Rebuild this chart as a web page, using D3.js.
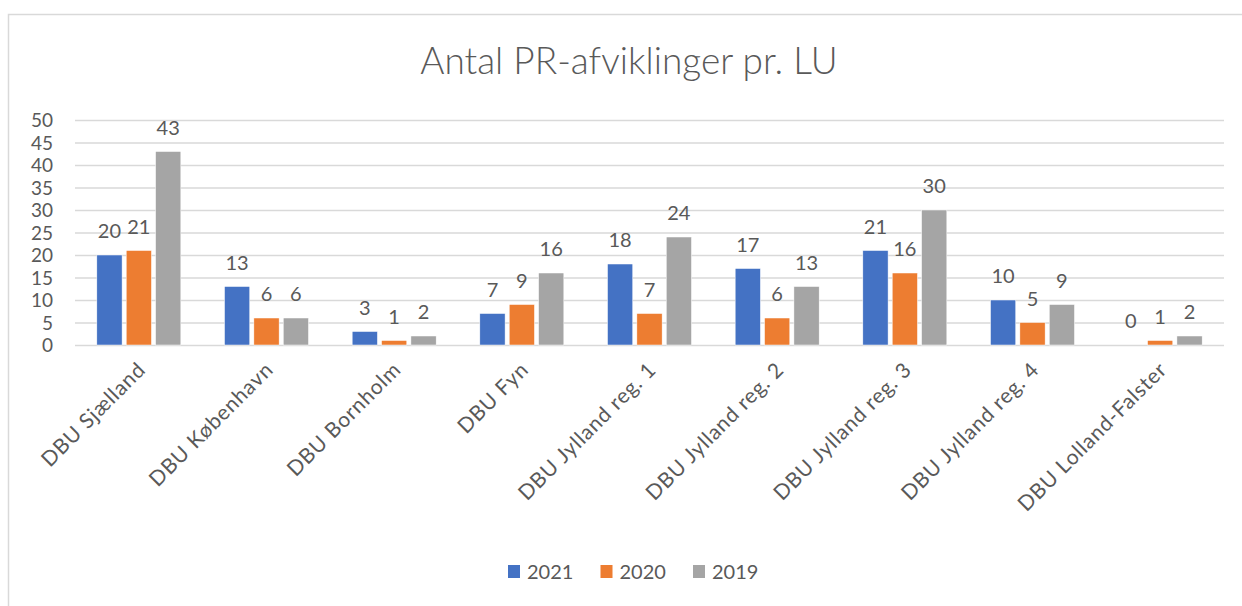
<!DOCTYPE html>
<html>
<head>
<meta charset="utf-8">
<script src="https://cdn.jsdelivr.net/npm/d3@7"></script>
<style>
  body { margin: 0; background: #fff; }
  text { font-family: Lato, "Open Sans", sans-serif; fill: #595959; }
</style>
</head>
<body>
<div id="chart"></div>
<script>
const categories = ['DBU Sjælland', 'DBU København', 'DBU Bornholm', 'DBU Fyn',
  'DBU Jylland reg. 1', 'DBU Jylland reg. 2', 'DBU Jylland reg. 3', 'DBU Jylland reg. 4', 'DBU Lolland-Falster'];
const years = ['2021', '2020', '2019'];
const values2021 = [20, 13, 3, 7, 18, 17, 21, 10, 0];
const values2020 = [21, 6, 1, 9, 7, 6, 16, 5, 1];
const values2019 = [43, 6, 2, 16, 24, 13, 30, 9, 2];
const yTicks = [0, 5, 10, 15, 20, 25, 30, 35, 40, 45, 50];

const seriesValues = [values2021, values2020, values2019];
const colors = d3.scaleOrdinal().domain(years).range(['#4472C4', '#ED7D31', '#A5A5A5']);

const W = 1242, H = 606;
const margin = { top: 120, right: 18, bottom: 261, left: 75 };
const width = W - margin.left - margin.right;
const height = H - margin.top - margin.bottom;

const svg = d3.select('#chart').append('svg')
  .attr('width', W)
  .attr('height', H);

// chart frame
svg.append('rect')
  .attr('x', 8.5).attr('y', 14.5)
  .attr('width', 1400).attr('height', 800)
  .attr('fill', 'none')
  .attr('stroke', '#D9D9D9')
  .attr('stroke-width', 1.5);

svg.append('text')
  .attr('x', 629)
  .attr('y', 74)
  .attr('text-anchor', 'middle')
  .attr('font-size', '37px')
  .attr('font-weight', 300)
  .text('Antal PR-afviklinger pr. LU');

const g = svg.append('g')
  .attr('transform', `translate(${margin.left}, ${margin.top})`);

const x0 = d3.scaleBand()
  .domain(categories)
  .range([0, width]);

const x1 = d3.scaleBand()
  .domain(years)
  .range([0, 84])
  .paddingInner(0.14);

const y = d3.scaleLinear()
  .domain([0, 50])
  .range([height, 0]);

// gridlines
g.append('g')
  .call(d3.axisLeft(y).tickValues(yTicks).tickSize(-width).tickFormat(''))
  .call(a => a.select('.domain').remove())
  .call(a => a.selectAll('line').attr('stroke', '#D9D9D9').attr('stroke-width', 1.5));

// y axis labels
g.append('g')
  .attr('transform', 'translate(-22, 0)')
  .call(d3.axisLeft(y).tickValues(yTicks).tickSize(0).tickPadding(0))
  .call(a => a.select('.domain').remove())
  .call(a => a.selectAll('text').attr('font-size', '19px').attr('fill', '#595959')
    .style('font-family', 'Lato, sans-serif').attr('dy', '0.36em'));

const groups = g.selectAll('.grp')
  .data(categories)
  .enter().append('g')
  .attr('class', 'grp')
  .attr('transform', d => `translate(${x0(d) + x0.bandwidth() / 2 - 42}, 0)`);

groups.selectAll('rect')
  .data((d, i) => years.map((yr, s) => ({ yr, v: seriesValues[s][i] })))
  .enter().append('rect')
  .attr('x', d => x1(d.yr))
  .attr('y', d => y(d.v))
  .attr('width', x1.bandwidth())
  .attr('height', d => height - y(d.v))
  .attr('fill', d => colors(d.yr))
  .attr('stroke', '#fff')
  .attr('stroke-width', 0.5);

groups.selectAll('.lbl')
  .data((d, i) => years.map((yr, s) => ({ yr, v: seriesValues[s][i] })))
  .enter().append('text')
  .attr('class', 'lbl')
  .attr('x', d => x1(d.yr) + x1.bandwidth() / 2)
  .attr('y', d => y(d.v) - 17)
  .attr('text-anchor', 'middle')
  .attr('font-size', '20px')
  .text(d => d.v);

// x axis labels
const xAxis = g.append('g')
  .attr('transform', `translate(0, ${height})`)
  .call(d3.axisBottom(x0).tickSize(0).tickPadding(0))
  .call(a => a.select('.domain').remove());
xAxis.selectAll('text')
  .attr('font-size', '21px')
  .attr('fill', '#595959')
  .style('font-family', 'Lato, sans-serif')
  .style('letter-spacing', '0.8px')
  .attr('text-anchor', 'end')
  .attr('dy', 0)
  .attr('y', 0)
  .attr('transform', 'translate(8, 26) rotate(-45)');

// legend
const legend = svg.append('g')
  .attr('transform', 'translate(508, 565)');
const legendX = d3.scalePoint().domain(years).range([0, 185]);
years.forEach(yr => {
  const row = legend.append('g').attr('transform', `translate(${legendX(yr)}, 0)`);
  row.append('rect')
    .attr('width', 12).attr('height', 13)
    .attr('fill', colors(yr));
  row.append('text')
    .attr('x', 19).attr('y', 14)
    .attr('font-size', '20px')
    .text(yr);
});
</script>
</body>
</html>
